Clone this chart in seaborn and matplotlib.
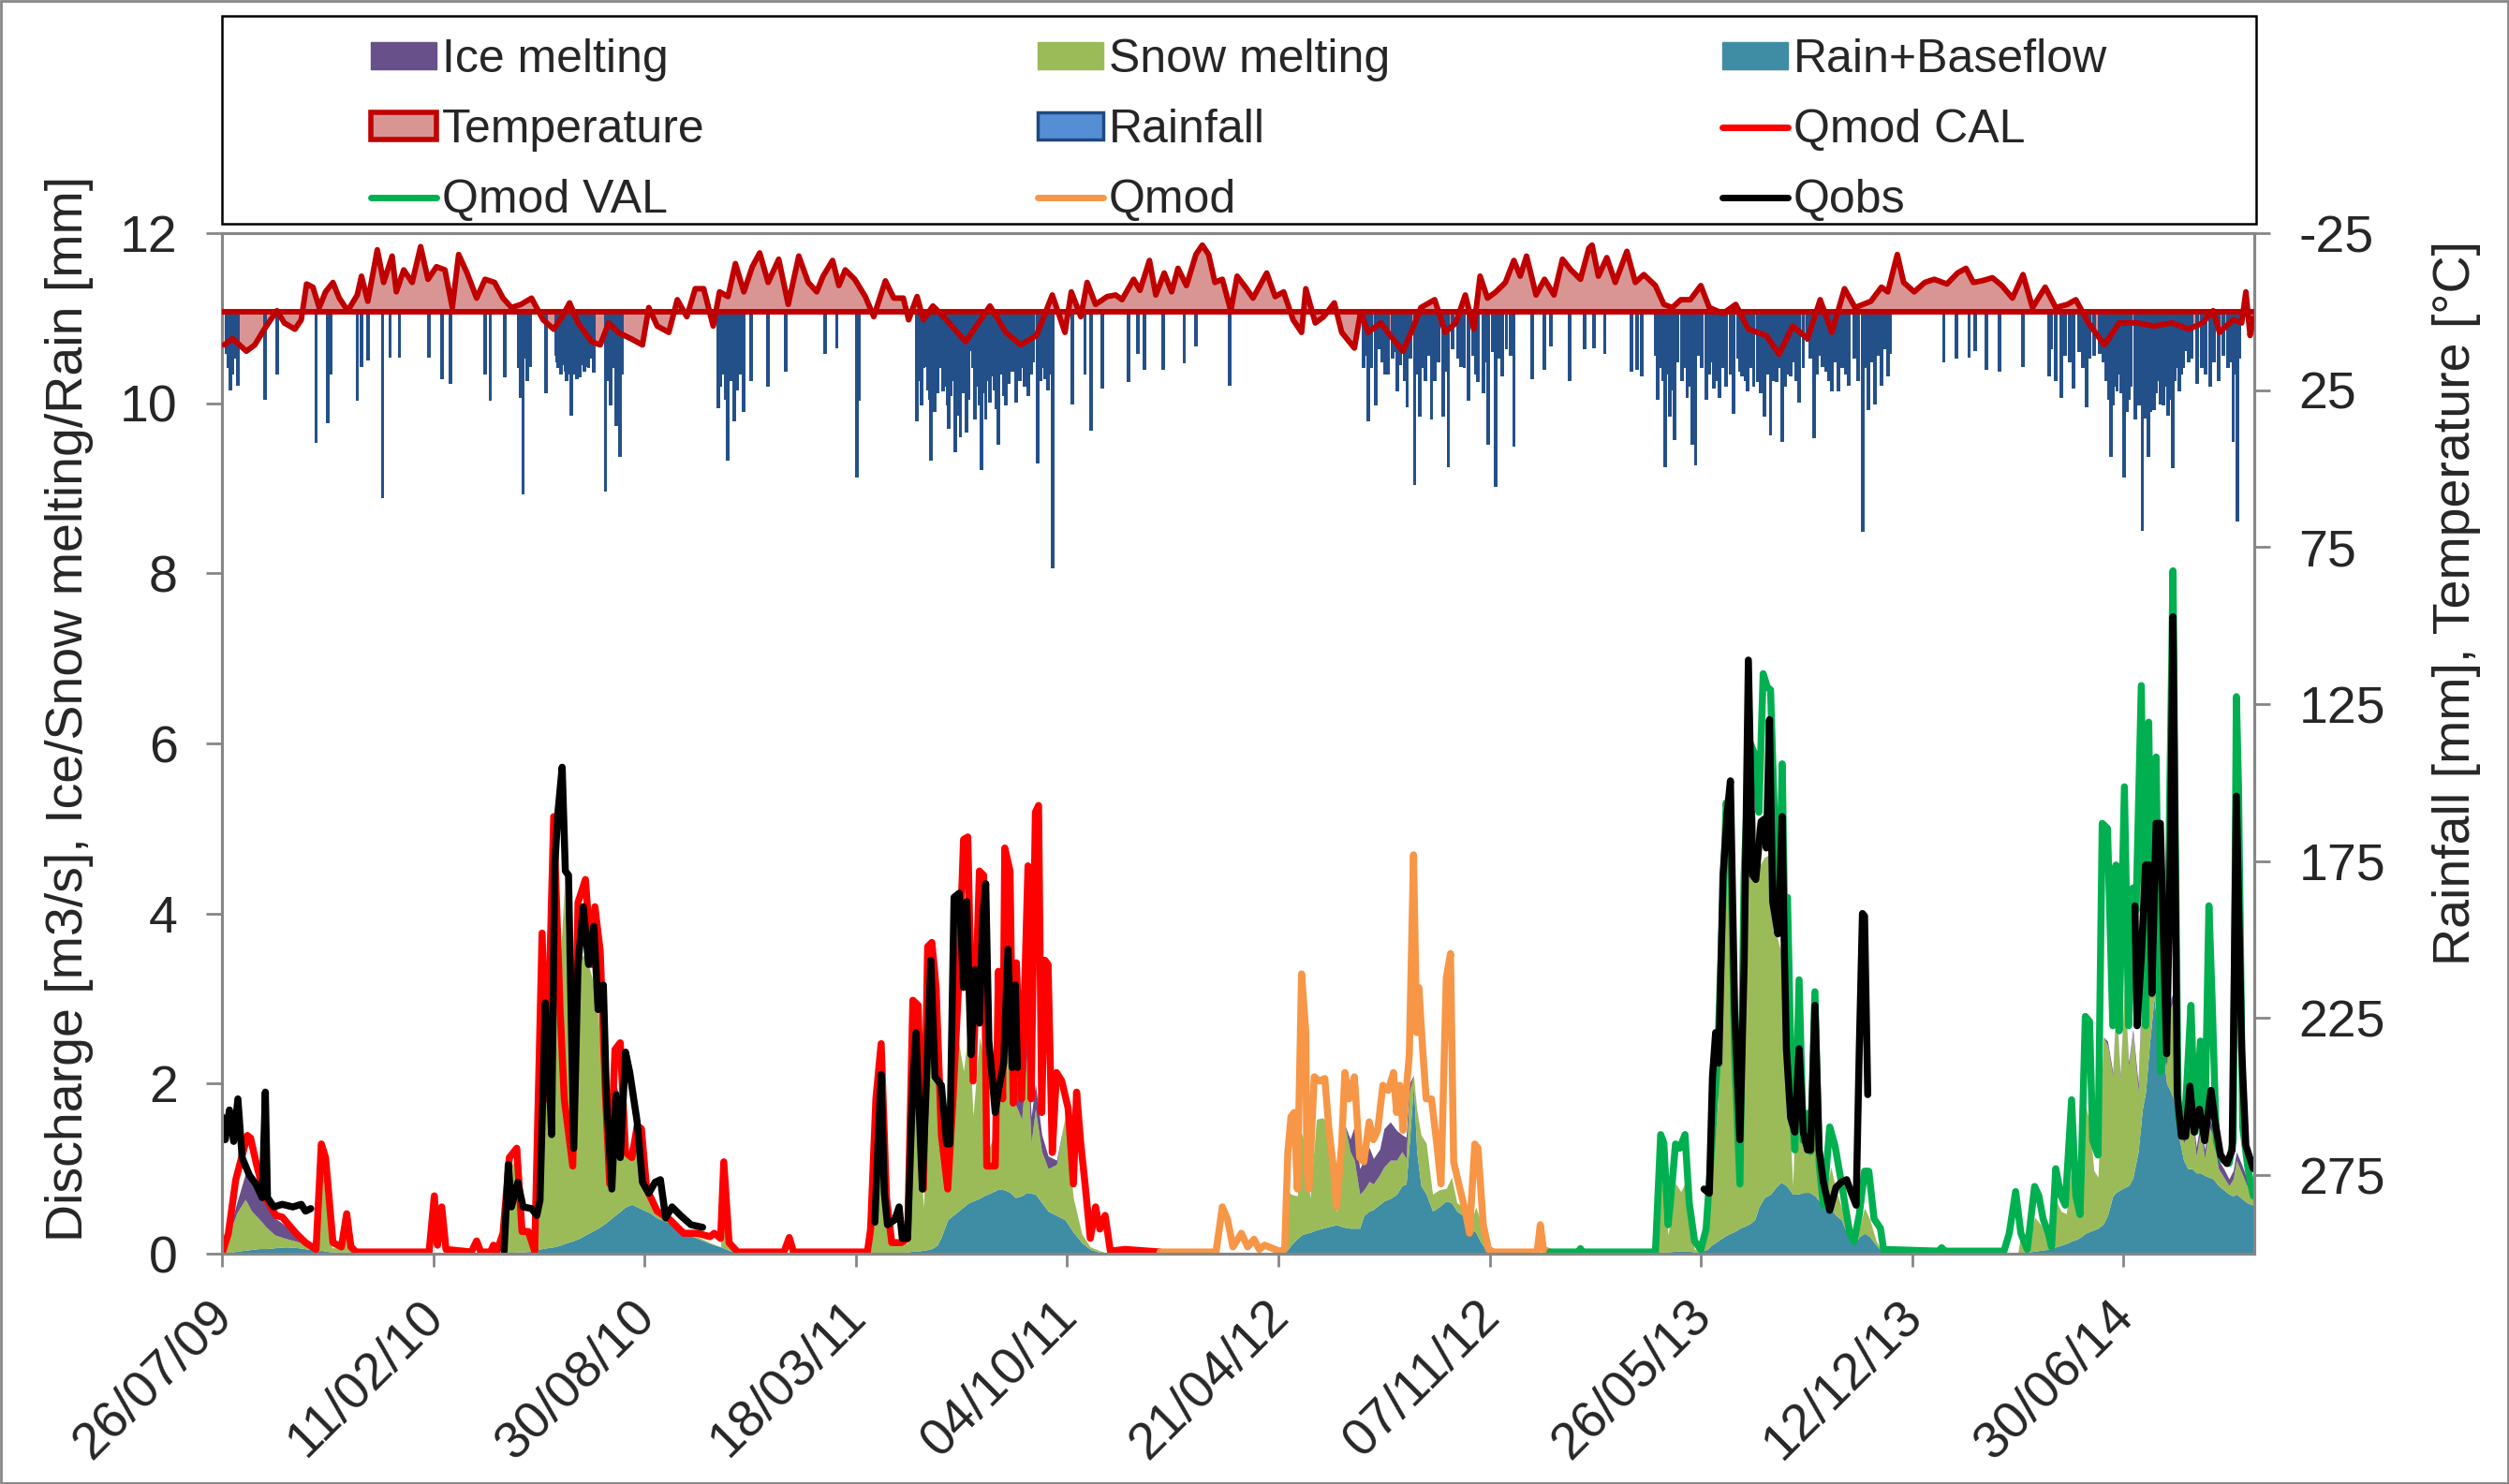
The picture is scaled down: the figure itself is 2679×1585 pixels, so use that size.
import numpy as np
import pandas as pd
import matplotlib
matplotlib.use("Agg")
import matplotlib.pyplot as plt
import matplotlib.dates as mdates
from matplotlib.patches import Patch, Rectangle
from matplotlib.lines import Line2D
from matplotlib.transforms import ScaledTranslation
import seaborn as sns

# ---------------- data (day offsets from 26/07/2009) ----------------
START = "2009-07-26"

# Qmod calibration (red)
qcal_days = [0, 6, 13, 24, 27, 33, 41, 51, 57, 70,
             79, 89, 94, 98, 105, 113, 118, 122, 127, 196,
             201, 204, 208, 212, 236, 241, 245, 254, 257, 260,
             266, 272, 279, 284, 290, 296, 303, 307, 314, 320,
             324, 332, 337, 344, 350, 353, 358, 363, 367, 372,
             377, 382, 388, 393, 397, 402, 412, 424, 437, 450,
             462, 466, 472, 475, 480, 488, 532, 537, 541, 611,
             614, 619, 624, 629, 634, 643, 649, 654, 659, 664,
             668, 672, 676, 681, 687, 692, 697, 702, 706, 711,
             717, 721, 724, 732, 735, 739, 741, 746, 749, 752,
             757, 763, 766, 770, 773, 776, 779, 782, 786, 790,
             795, 801, 806, 809, 813, 817, 822, 827, 831, 836,
             841, 855, 888]
qcal_vals = [0, .24, .87, 1.39, 1.36, 1.03, .66, .45, .43, .24,
             .13, .05, 1.29, 1.13, .13, .08, .47, .08, .02, .02,
             .68, .1, .55, .05, .02, .15, .02, .02, .1, .02,
             .24, 1.13, 1.24, .26, .26, .03, 3.77, 1.82, 5.14, 2.87,
             1.82, 1.03, 4.13, 4.4, 3.4, 4.08, 3.56, 1.87, .82, 2.4,
             2.48, 1.19, 1.13, 1.5, 1.47, .76, .5, .4, .24, .24,
             .2, .24, .18, 1.08, .13, .02, .02, .19, .02, .02,
             .29, 1.82, 2.47, .66, .13, .13, .18, 2.98, 2.92, .76,
             3.61, 3.66, 3.13, 1.4, .76, 1.82, 3.08, 4.87, 4.9, 2.03,
             4.5, 4.45, 1.03, 1.03, 3.32, 1.82, 4.77, 4.5, 1.77, 3.42,
             1.82, 4.56, 1.82, 5.19, 5.27, 1.66, 3.45, 3.4, 1.19, 2.13,
             2.03, 1.71, .82, 1.9, 1.29, .82, .18, .55, .29, .45,
             .03, .05, .02]

# Qmod 2012 (orange)
qmod_days = [888, 941, 947, 952, 957, 965, 971, 977, 982, 987,
             1001, 1006, 1009, 1012, 1015, 1018, 1022, 1026, 1027, 1029,
             1034, 1039, 1044, 1048, 1052, 1055, 1060, 1063, 1067, 1072,
             1077, 1081, 1086, 1090, 1094, 1099, 1104, 1109, 1112, 1115,
             1118, 1124, 1128, 1131, 1133, 1137, 1140, 1145, 1150, 1154,
             1159, 1163, 1166, 1172, 1177, 1181, 1186, 1189, 1194, 1199,
             1204, 1245, 1248, 1251, 1257]
qmod_vals = [.02, .02, .55, .4, .08, .24, .08, .17, .05, .1,
             .03, .05, 1.19, 1.61, 1.66, .76, 3.29, 2.6, .97, .76,
             2.08, 2.03, 2.06, 1.45, 1.03, .55, 1.29, 2.13, 1.82, 2.08,
             1.13, 1.08, 1.55, 1.34, 1.45, 1.98, 1.92, 2.13, 1.66, 1.98,
             1.45, 2.34, 4.69, 2.6, 3.13, 2.34, 1.82, 1.82, 1.29, .82,
             3.24, 3.53, 1.08, .76, .5, .24, 1.29, 1.24, .34, .05,
             .02, .02, .34, .05, .02]

# Qmod validation (green)
qval_days = [1257, 1284, 1286, 1288, 1357, 1362, 1365, 1369, 1372, 1376,
             1380, 1385, 1389, 1394, 1400, 1405, 1409, 1416, 1424, 1428,
             1432, 1437, 1441, 1446, 1451, 1455, 1459, 1463, 1466, 1471,
             1474, 1477, 1479, 1482, 1486, 1489, 1493, 1497, 1501, 1504,
             1508, 1512, 1516, 1522, 1527, 1533, 1541, 1545, 1550, 1555,
             1559, 1564, 1570, 1573, 1625, 1628, 1631, 1687, 1692, 1698,
             1703, 1709, 1716, 1720, 1724, 1729, 1732, 1736, 1741, 1745,
             1751, 1755, 1759, 1764, 1768, 1771, 1776, 1780, 1785, 1790,
             1793, 1796, 1801, 1805, 1809, 1812, 1817, 1821, 1824, 1827,
             1831, 1835, 1840, 1843, 1847, 1849, 1852, 1857, 1860, 1864,
             1868, 1873, 1877, 1881, 1884, 1888, 1893, 1900, 1904, 1907,
             1909, 1913, 1918, 1923]
qval_vals = [.02, .02, .06, .02, .02, 1.4, 1.3, .34, .71, 1.29,
             1.24, 1.4, .6, .15, .05, .29, 1.03, 2.34, 5.3, 4.98,
             2.34, .82, 4.45, 6.03, 5.87, 5.19, 6.82, 6.66, 6.63, 4.57,
             4.0, 5.76, 4.19, 4.19, 1.87, 1.22, 3.22, 1.33, 1.65, 1.2,
             3.08, 1.06, .57, 1.49, 1.27, .84, .24, .14, .46, .97,
             .97, .41, .3, .05, .03, .07, .03, .03, .24, .73,
             .24, .05, .79, .68, .41, .24, .08, 1.0, .68, .57,
             1.81, .68, .46, 2.79, 2.73, 1.33, 1.16, 5.06, 5.0, 2.68,
             4.57, 2.62, 5.49, 2.68, 4.3, 4.03, 6.68, 2.68, 6.25, 3.49,
             5.84, 2.14, 2.41, 4.57, 8.03, 5.11, 1.6, 1.38, 1.97, 2.92,
             1.43, 2.5, 1.33, 4.09, 3.0, 1.33, 1.11, 1.06, 1.33, 6.55,
             5.49, 1.49, 1.0, .68]

# Observed discharge (NaN = gap in record)
qobs_days = [0, 3, 7, 11, 15, 19, 26, 32, 38, 41, 43, 49, 57, 67, 75, 79, 84, 85,
             267, 271, 274, 280, 285, 293, 298, 301, 306, 310, 312, 315, 318, 322,
             325, 328, 333, 337, 342, 347, 352, 356, 361, 364, 369, 373, 377, 382,
             386, 393, 398, 404, 410, 415, 420, 426, 434, 444, 455, 456,
             618, 621, 624, 627, 630, 637, 641, 644, 649, 654, 657, 663, 667, 671,
             675, 681, 686, 689, 693, 698, 702, 705, 709, 713, 717, 720, 723, 726,
             732, 735, 740, 744, 748, 751, 753, 754,
             1403, 1408, 1411, 1414, 1417, 1421, 1425, 1428, 1432, 1437, 1441, 1445,
             1449, 1452, 1457, 1460, 1462, 1465, 1468, 1473, 1477, 1479, 1481, 1485,
             1489, 1493, 1497, 1501, 1504, 1508, 1512, 1516, 1522, 1528, 1533, 1538,
             1542, 1547, 1550, 1553, 1555, 1558, 1559,
             1811, 1813, 1817, 1821, 1825, 1827, 1831, 1835, 1841, 1845, 1847, 1851,
             1855, 1859, 1863, 1867, 1872, 1877, 1883, 1887, 1892, 1898, 1903, 1907,
             1912, 1916, 1923]
qobs_vals = [1.61, 1.34, 1.69, 1.32, 1.82, 1.13, .92, .82, .66, 1.9, .66, .55, .58, .55, .58, .5, .53, np.nan,
             .03, 1.05, .55, .84, .55, .53, .45, .63, 2.95, 1.98, 1.4, 4.56, 5.19, 5.72,
             4.5, 4.45, 1.24, 3.4, 4.08, 3.4, 3.85, 2.87, 3.16, 1.82, .76, 1.87, 1.13, 2.37,
             2.13, 1.55, .84, .71, .84, .87, .42, .55, .45, .34, .31, np.nan,
             .37, 1.29, 2.11, .71, .34, .4, .55, .18, .18, 2.03, 2.6, .76, 2.08, 3.45,
             2.08, 1.98, 1.29, 1.29, 4.19, 4.24, 3.13, 4.14, 2.34, 3.34, 2.71, 3.92, 4.35, 2.5,
             1.66, 1.92, 2.24, 3.58, 2.19, 3.16, 2.19, np.nan,
             .76, .71, 2.08, 2.6, 2.24, 4.45, 5.19, 5.56, 2.87, 1.34, 3.4, 6.98,
             4.45, 4.4, 5.08, 5.11, 4.77, 6.28, 4.14, 3.76, 5.14, 3.6, 2.41, 1.6,
             1.43, 2.41, 1.43, 1.22, 1.22, 2.92, 1.22, .84, .51, .78, .84, .87,
             .73, .57, 2.41, 4.0, 3.97, 1.87, np.nan,
             4.09, 2.68, 3.49, 4.57, 4.57, 3.06, 5.06, 5.06, 2.35, 5.11, 7.49, 1.87,
             1.38, 1.38, 1.97, 1.43, 1.7, 1.33, 1.92, 1.54, 1.16, 1.06, 1.22, 5.38,
             2.41, 1.27, 1.0]

# Discharge components (stacked areas)
stack_days = [0, 6, 14, 22, 28, 35, 42, 50, 60, 72, 84, 90, 94, 98, 104, 112, 118, 124, 268,
              272, 279, 284, 295, 300, 303, 308, 314, 320, 324, 332, 338, 344, 350, 356, 362, 367,
              372, 377, 382, 388, 393, 398, 405, 412, 425, 437, 450, 462, 472, 476, 480, 488, 614,
              619, 624, 629, 634, 649, 654, 659, 664, 669, 672, 677, 681, 687, 692, 697, 702, 707,
              711, 717, 721, 725, 732, 735, 741, 746, 751, 757, 762, 766, 770, 776, 782, 790, 798,
              806, 814, 822, 830, 840, 1004,
              1009, 1012, 1018, 1022, 1026, 1030, 1036, 1042, 1048, 1052, 1055, 1060, 1063, 1068,
              1072, 1077, 1081, 1086, 1090, 1096, 1100, 1106, 1112, 1117, 1121, 1124, 1128, 1131,
              1135, 1140, 1146, 1152, 1159, 1164, 1169, 1175, 1181, 1187, 1191, 1196, 1200, 1357,
              1362, 1366, 1369, 1376, 1381, 1385, 1389, 1394, 1400, 1406, 1410, 1416, 1422, 1428,
              1432, 1437, 1441, 1446, 1451, 1455, 1460, 1466, 1471, 1476, 1481, 1487, 1492, 1497,
              1503, 1508, 1512, 1517, 1523, 1528, 1533, 1541, 1546, 1550, 1555, 1560, 1566, 1572,
              1575, 1700,
              1702, 1710, 1716, 1722, 1728, 1732, 1736, 1741, 1746, 1751, 1756, 1760, 1764, 1768,
              1772, 1776, 1781, 1785, 1790, 1793, 1797, 1801, 1805, 1809, 1814, 1818, 1821, 1825,
              1829, 1833, 1837, 1841, 1845, 1848, 1852, 1857, 1861, 1865, 1869, 1873, 1877, 1881,
              1885, 1890, 1895, 1900, 1904, 1907, 1912, 1917, 1923]
rain_baseflow = [0, .01, .03, .04, .05, .06, .06, .07, .08, .07, .05, .03, .04, .03, .02, .02, .02, 0, 0,
                 .01, .02, .02, .03, .05, .06, .07, .08, .1, .12, .15, .18, .22, .26, .3, .35, .4,
                 .45, .5, .55, .58, .55, .52, .48, .42, .35, .25, .18, .12, .08, .06, .04, 0, 0,
                 .01, .01, .01, .01, .02, .03, .03, .04, .05, .06, .1, .2, .4, .45, .5, .55, .6,
                 .62, .65, .68, .7, .74, .76, .75, .72, .66, .68, .72, .71, .7, .6, .5, .45, .4,
                 .25, .13, .05, .02, 0, 0,
                 .05, .1, .18, .22, .24, .25, .28, .3, .32, .33, .34, .32, .31, .3,
                 .3, .3, .45, .5, .52, .58, .62, .65, .7, .8, .82, 1.3, 2.0, 1.2,
                 .8, .7, .5, .55, .62, .6, .5, .45, .3, .25, .15, .05, 0, 0,
                 .02, .02, .02, .03, .03, .03, .03, .02, .03, .05, .1, .15, .2, .24,
                 .26, .3, .32, .35, .4, .55, .66, .7, .78, .84, .8, .7, .7, .72,
                 .72, .68, .62, .57, .52, .45, .4, .15, .12, .2, .24, .2, .1, .02,
                 0, 0,
                 .01, .02, .03, .04, .05, .06, .08, .1, .12, .15, .17, .2, .24, .26,
                 .28, .3, .35, .45, .68, .72, .75, .78, .8, .89, 1.2, 1.7, 1.9, 2.5,
                 3.0, 2.6, 2.4, 2.0, 1.9, 1.8, 1.4, 1.1, 1.0, 1.0, .95, .95, .92, .9,
                 .88, .8, .75, .7, .68, .7, .65, .6, .57]
snow_melting = [0, .2, .45, .6, .45, .35, .25, .15, .1, .07, .04, .02, 1.1, .6, .05, .05, .35, 0, 0,
                1.0, 1.1, .3, .25, 2.0, 3.5, 1.5, 4.9, 3.3, 4.2, .85, 3.3, 3.3, 3.0, 2.5, 1.4, .4,
                1.5, 1.3, .6, .7, .8, .55, .3, .1, .08, .03, .02, .01, 0, .9, .1, 0, 0,
                1.3, 2.0, .4, .15, .1, 2.5, 1.5, .5, 2.0, 2.9, 2.5, 1.0, .35, 1.2, 2.0, 1.6, 2.1,
                1.0, 1.9, 1.6, .5, .7, 1.2, 2.0, 1.3, 1.1, .9, 1.6, .6, 1.0, .6, .5, .6, 1.2,
                .4, .1, .03, .02, 0, 0,
                .7, .6, .5, 1.2, 1.0, .4, 1.3, 1.3, 1.2, .6, .15, .7, 1.2, .9,
                .8, .4, .3, .35, .3, .35, .4, .45, .4, .4, .3, .6, .1, .5,
                .6, .6, .2, .2, .15, .3, .1, .1, .02, .3, .25, .02, 0, 0,
                .9, .6, .2, .8, .7, .8, .3, .03, .05, .2, .8, 1.6, 4.5, 4.4,
                2.0, 1.0, 3.5, 5.0, 4.8, 4.0, 4.0, 4.0, 3.0, 2.7, 1.6, .1, 1.9, .5,
                .7, 1.5, .2, .05, .5, .3, .15, .05, .02, .1, .3, .2, .05, 0,
                0, 0,
                .15, .05, .4, .3, .15, .1, .55, .4, .35, .9, .45, .3, 1.5, 1.3,
                .7, .6, 2.2, 2.0, 1.4, 2.2, 1.3, 2.3, 1.4, 1.7, .7, 1.6, .8, .9,
                .3, .3, .1, .2, 1.0, 1.2, .2, .2, .4, .6, .2, .5, .2, .6,
                .5, .2, .15, .1, .2, .4, .3, .2, .05]
ice_melting = [0, .03, .12, .3, .45, .4, .3, .2, .15, .08, .03, 0, 0, 0, 0, 0, 0, 0, 0,
               0, 0, 0, 0, 0, 0, 0, 0, 0, 0, 0, 0, 0, 0, 0, .05, 0,
               .05, .05, 0, .03, .05, .03, 0, 0, 0, 0, 0, 0, 0, 0, 0, 0, 0,
               0, 0, 0, 0, 0, 0, 0, 0, 0, 0, 0, 0, 0, 0, 0, 0, 0,
               0, 0, 0, 0, 0, 0, .05, .1, .3, .4, .35, .3, .3, .2, .15, .05, 0,
               0, 0, 0, 0, 0, 0,
               0, 0, 0, 0, 0, 0, 0, 0, 0, 0, 0, 0, 0, .15,
               .4, .3, .35, .4, .3, .3, .45, .45, .35, .2, .25, .1, 0, 0,
               0, 0, 0, 0, 0, 0, 0, 0, 0, 0, 0, 0, 0, 0,
               0, 0, 0, 0, 0, 0, 0, 0, 0, 0, 0, 0, 0, 0,
               0, 0, 0, 0, 0, 0, 0, 0, 0, 0, 0, 0, 0, 0,
               0, 0, 0, 0, 0, 0, 0, 0, 0, 0, 0, 0, 0, 0,
               0, 0,
               0, 0, 0, 0, 0, 0, 0, 0, 0, 0, 0, 0, 0, 0,
               0, 0, 0, .05, .05, .05, .05, .05, .05, .05, .1, .1, .1, .1,
               .1, .1, .1, .1, .1, .1, .1, .1, .1, .1, .1, .1, .1, .1,
               .1, .1, .1, .08, .1, .1, .1, .08, .05]

# Temperature (deg C, right axis)
temp_days = [2, 10, 23, 31, 40, 46, 52, 59, 69, 75, 80, 86, 92, 98, 105, 111, 119, 128, 132, 138,
             147, 153, 161, 165, 172, 180, 188, 195, 203, 211, 218, 224, 232, 241, 249, 258, 266, 274, 283, 293,
             304, 314, 322, 329, 337, 350, 358, 366, 375, 387, 398, 404, 412, 423, 431, 440, 448, 456, 465, 471,
             479, 486, 494, 502, 509, 517, 527, 536, 546, 555, 563, 569, 578, 584, 590, 599, 609, 617, 628, 636,
             645, 650, 658, 664, 673, 683, 704, 727, 742, 756, 771, 786, 798, 804, 813, 819, 827, 838, 846, 852,
             863, 869, 878, 884, 892, 899, 905, 913, 922, 928, 934, 940, 947, 955, 961, 970, 976, 989, 997, 1005,
             1014, 1022, 1026, 1035, 1043, 1053, 1060, 1072, 1078, 1085, 1097, 1106, 1118, 1127, 1135, 1148, 1158, 1168, 1177, 1185,
             1191, 1198, 1206, 1215, 1223, 1229, 1235, 1244, 1252, 1261, 1269, 1277, 1286, 1294, 1297, 1303, 1311, 1319, 1330, 1338,
             1346, 1357, 1365, 1373, 1381, 1390, 1400, 1408, 1421, 1433, 1445, 1462, 1474, 1487, 1501, 1513, 1524, 1536, 1546, 1561,
             1571, 1577, 1586, 1592, 1602, 1612, 1621, 1633, 1643, 1651, 1658, 1666, 1676, 1685, 1695, 1705, 1714, 1726, 1736, 1747,
             1755, 1767, 1782, 1796, 1813, 1829, 1846, 1862, 1875, 1885, 1891, 1904, 1912, 1916, 1920, 1923]
temp_vals = [10.6, 8.6, 12.6, 10.6, 5.6, 2.6, -0.3, 3.6, 5.6, 2.6, -8.8, -7.8, -1.3, -6.3, -9.3, -4.3, -0.3, -5.3, -11.3, -3.3,
             -19.7, -9.3, -17.7, -6.3, -13.3, -9.3, -20.7, -10.3, -14.3, -13.3, -1.3, -18.2, -12.3, -4.3, -10.3, -9.3, -4.3, -1.3, -2.3, -4.3,
             2.6, 5.6, 1.6, -2.8, 3.6, 9.6, 10.6, 3.6, 6.6, 8.6, 10.6, -1.3, 4.6, 6.6, -3.8, 1.6, -7.3, -7.3, 4.6, -6.3,
             -4.8, -15.3, -6.3, -14.3, -18.7, -9.3, -16.7, -2.3, -17.7, -9.3, -6.3, -11.3, -16.3, -8.3, -13.3, -10.3, -4.8, 1.6, -9.8, -4.3,
             -4.3, 2.6, -4.8, 2.6, -1.8, 1.6, 9.6, -1.8, 6.6, 10.6, 7.6, -5.3, 6.6, -6.3, 1.6, -9.3, -2.3, -4.8, -5.3, -3.8,
             -10.3, -6.8, -16.3, -5.3, -12.3, -6.3, -13.8, -8.3, -18.2, -21.2, -18.2, -9.3, -10.3, -0.3, -11.3, -7.3, -4.3, -12.3, -4.8, -6.3,
             2.6, 6.6, -7.3, 3.6, 1.6, -2.8, 6.6, 11.6, 0.0, 6.6, 3.6, 7.6, 12.6, 5.6, -1.3, -3.8, 6.6, 3.6, -5.3, 5.6,
             -11.3, -4.3, -6.3, -9.3, -16.3, -11.3, -17.7, -5.3, -10.3, -5.3, -16.7, -13.3, -10.3, -20.2, -21.2, -11.3, -17.2, -9.3, -19.2, -9.3,
             -11.8, -8.3, -2.3, -1.3, -3.8, -3.8, -8.3, -1.3, 0.6, -2.3, 5.6, 7.6, 13.6, 4.6, 8.6, -3.8, 6.6, -7.3, -1.3, -3.3,
             -7.8, -6.3, -18.2, -9.3, -6.3, -9.3, -10.3, -8.8, -12.3, -13.8, -9.3, -9.8, -10.8, -8.3, -4.3, -11.8, -1.3, -7.8, -1.3, -2.3,
             -3.8, 3.6, 10.6, 3.6, 3.6, 4.6, 3.6, 5.6, 3.6, -0.3, 6.6, 2.6, 3.6, -6.3, 7.6, 2.0]

# Rainfall (mm, right axis): larger events
rain_days = [4, 8, 15, 41, 52, 89, 100, 103, 128, 132, 138, 152, 159, 168, 196, 208, 216, 249, 254, 268,
             281, 283, 285, 287, 289, 292, 307, 316, 320, 324, 329, 331, 336, 341, 345, 350, 352, 363, 373, 377,
             470, 475, 479, 483, 488, 490, 494, 501, 517, 534, 571, 582, 601, 603, 658, 666, 671, 679, 683, 688,
             694, 699, 705, 710, 713, 719, 723, 729, 735, 742, 752, 763, 772, 779, 786, 805, 817, 823, 833, 858,
             867, 873, 891, 911, 922, 954, 1081, 1085, 1092, 1101, 1108, 1113, 1118, 1122, 1129, 1134, 1139, 1145, 1156, 1161,
             1173, 1180, 1189, 1194, 1199, 1206, 1212, 1223, 1240, 1252, 1258, 1276, 1290, 1299, 1309, 1334, 1340, 1344, 1359, 1366,
             1371, 1375, 1387, 1392, 1395, 1405, 1412, 1418, 1431, 1439, 1444, 1454, 1460, 1466, 1472, 1477, 1485, 1493, 1501, 1507,
             1515, 1524, 1530, 1540, 1553, 1559, 1565, 1571, 1577, 1579, 1630, 1642, 1654, 1660, 1670, 1683, 1705, 1730, 1736, 1741,
             1753, 1765, 1778, 1788, 1794, 1796, 1801, 1811, 1813, 1818, 1824, 1829, 1833, 1835, 1842, 1847, 1850, 1853, 1860, 1870,
             1882, 1904, 1908]
rain_mm = [13.6, 25, 23.5, 28, 20, 41.9, 35.4, 20, 28.5, 17.5, 15.5, 59.3, 14.6, 14.6, 14.6, 21.5, 23, 20, 28.5, 21,
           18, 27.5, 58.3, 15, 22, 17.5, 26, 14, 14.6, 15, 20, 33, 21.5, 16, 17.5, 14, 19.5, 57.3, 36.4, 46.4,
           30.9, 18, 47.4, 21.5, 25, 20, 31.9, 22, 24, 19, 13.6, 11.6, 52.8, 28.5, 35, 17.5, 47.4, 16.5, 25.5, 37.4,
           44.9, 39.9, 38.4, 12.6, 34.4, 50.4, 34.4, 20.5, 42.4, 30, 29, 27, 48.4, 21.5, 81.7, 29.5, 20, 37.9, 24.5, 22.5,
           13.6, 18.5, 18.5, 16.5, 11, 23.5, 18, 35, 30, 20, 15, 25.5, 13, 30.5, 55.3, 33.4, 22, 34.4, 33.4, 49.4,
           17.5, 28.5, 22.5, 26, 42.4, 55.8, 20.5, 42.9, 21.5, 18.5, 11, 22, 12.1, 11.6, 13.6, 19, 18.5, 20.5, 28, 49.4,
           33.4, 40.9, 27.5, 42.4, 48.9, 28, 24.5, 27.5, 32.5, 20.5, 25.5, 22.5, 33.4, 39.4, 22.5, 41.4, 20.5, 29, 9.6, 40.4,
           17.5, 25.5, 25.5, 23.5, 70.2, 31.5, 29.5, 23.5, 20.5, 13.6, 16, 15, 14.6, 12.6, 18.5, 19, 17.5, 20.5, 22, 27.5,
           24.5, 30.5, 13.6, 46.4, 25.5, 20, 52.8, 34.4, 28, 69.7, 46.4, 31.5, 22, 29.5, 33, 49.9, 18, 25.5, 12.6, 23,
           24, 41.4, 66.8]

# Rainfall (mm): smaller events filling the wet spells
rain2_days = [6, 10, 12,
              317, 318, 319, 321, 322, 323, 325, 326, 327, 328, 330, 333, 334, 335, 337, 338, 339, 340,
              342, 343, 344, 346, 347, 348,
              365, 368, 370, 375, 379,
              472, 474, 477, 481, 485, 492,
              660, 662, 664, 668, 670, 673, 675, 677, 681, 685, 687, 690, 692, 696, 701, 703, 707, 711, 715, 717,
              721, 725, 727, 731, 733, 738, 740, 745, 748, 755, 758, 760, 766, 768, 775, 777, 782, 784,
              1083, 1088, 1095, 1098, 1104, 1110, 1115, 1120, 1125, 1131, 1137, 1142, 1148, 1152, 1158, 1165, 1170,
              1176, 1184, 1187, 1196, 1203, 1209, 1216, 1220,
              1357, 1362, 1364, 1369, 1373, 1378, 1382, 1385, 1390, 1398, 1401, 1408, 1410, 1415, 1421, 1424, 1428,
              1435, 1437, 1442, 1447, 1450, 1457, 1463, 1469, 1475, 1480, 1482, 1488, 1490, 1497, 1504, 1510, 1512,
              1519, 1521, 1527, 1534, 1537, 1545, 1549, 1556, 1562, 1568, 1574,
              1732, 1745, 1749, 1758, 1762, 1768, 1772, 1781, 1784, 1786, 1790, 1792, 1798, 1803, 1805, 1807, 1815,
              1816, 1820, 1822, 1826, 1831, 1838, 1840, 1844, 1849, 1855, 1857, 1862, 1865, 1874, 1878, 1886, 1890,
              1895, 1899, 1902, 1906, 1910]
rain2_mm = [18, 20, 15,
            16, 18, 15, 20, 17, 14, 19, 22, 16, 18, 15, 17, 20, 14, 18, 16, 21, 15,
            17, 19, 14, 16, 18, 15,
            22, 30, 18, 25, 20,
            24, 20, 28, 22, 35, 18,
            22, 30, 18, 25, 28, 20, 32, 26, 18, 24, 30, 27, 22, 33, 26, 20, 28, 18, 24, 30,
            26, 22, 29, 25, 31, 20, 27, 23, 19, 22, 18, 24, 20, 16, 22, 18, 25, 20,
            14, 18, 12, 16, 20, 13, 17, 22, 15, 20, 18, 14, 22, 16, 19, 12, 15,
            18, 14, 20, 16, 13, 15, 12, 14,
            14, 18, 22, 20, 25, 16, 22, 18, 24, 14, 18, 20, 16, 22, 18, 24, 20,
            15, 19, 22, 18, 24, 26, 20, 22, 18, 24, 20, 16, 22, 18, 15, 20, 14,
            19, 22, 16, 18, 20, 15, 22, 18, 16, 14, 12,
            12, 14, 16, 13, 18, 15, 14, 16, 22, 28, 30, 24, 26, 32, 28, 24, 30,
            26, 34, 28, 32, 26, 30, 24, 28, 22, 20, 18, 16, 15, 18, 20, 16, 22,
            14, 18, 16, 20, 15]

x_tick_days = [0, 200, 400, 600, 800, 1000, 1200, 1400, 1600, 1800]
left_ticks = [0, 2, 4, 6, 8, 10, 12]
right_ticks = [-25, 25, 75, 125, 175, 225, 275]

assert len(qcal_days) == len(qcal_vals) and len(qmod_days) == len(qmod_vals)
assert len(qval_days) == len(qval_vals) and len(qobs_days) == len(qobs_vals)
assert len(stack_days) == len(rain_baseflow) == len(snow_melting) == len(ice_melting)
assert len(temp_days) == len(temp_vals) and len(rain_days) == len(rain_mm)
assert len(rain2_days) == len(rain2_mm)

# ---------------- styling ----------------
sns.set_theme(style="white")
plt.rcParams["font.family"] = ["Liberation Sans", "DejaVu Sans"]
plt.rcParams["axes.unicode_minus"] = False
FS_TICK = 40
FS_LAB = 40
FS_LEG = 36
GRAY = "#868686"
C_ICE, C_SNOW, C_RB = "#68508A", "#9BBB59", "#3F8CA5"
C_TLINE, C_TFILL = "#C00000", "#D99594"
C_RAIN = "#24508A"
C_CAL, C_VAL, C_QMOD, C_OBS = "#FF0000", "#00B050", "#F79646", "#000000"


def to_dates(days):
    return pd.Timestamp(START) + pd.to_timedelta(np.asarray(days, dtype=float), unit="D")


fig = plt.figure(figsize=(26.79, 15.85), dpi=100)
ax = fig.add_axes([0.0885, 0.1552, 0.8100, 0.6877])
ax2 = ax.twinx()

# stacked components
ax.stackplot(to_dates(stack_days), rain_baseflow, snow_melting, ice_melting,
             colors=[C_RB, C_SNOW, C_ICE], linewidth=0, zorder=1)

LW = 5.4
sns.lineplot(x=to_dates(qcal_days), y=qcal_vals, ax=ax, color=C_CAL, linewidth=LW, zorder=3)
sns.lineplot(x=to_dates(qmod_days), y=qmod_vals, ax=ax, color=C_QMOD, linewidth=LW, zorder=3)
sns.lineplot(x=to_dates(qval_days), y=qval_vals, ax=ax, color=C_VAL, linewidth=LW, zorder=3)

# observed discharge, one segment per continuous record
od = np.asarray(qobs_days, float)
ov = np.asarray(qobs_vals, float)
breaks = np.where(np.isnan(ov))[0]
start = 0
for b in list(breaks) + [len(ov)]:
    if b - start > 1:
        sns.lineplot(x=to_dates(od[start:b]), y=ov[start:b], ax=ax, color=C_OBS,
                     linewidth=LW, zorder=4)
    start = b + 1

# right axis: temperature and rainfall
tdates = to_dates(temp_days)
ax2.fill_between(tdates, temp_vals, 0, color=C_TFILL, linewidth=0, zorder=1)
ax2.bar(to_dates(rain_days), rain_mm, width=3.4, color=C_RAIN, linewidth=0, zorder=2)
ax2.bar(to_dates(rain2_days), rain2_mm, width=3.4, color=C_RAIN, linewidth=0, zorder=2)
sns.lineplot(x=tdates, y=temp_vals, ax=ax2, color=C_TLINE, linewidth=4.3, zorder=3)
ax2.axhline(0, color=C_TLINE, linewidth=4.3, zorder=3)

# axes limits and ticks
x0 = pd.Timestamp(START)
ax.set_xlim(x0, x0 + pd.Timedelta(days=1924))
ax.set_ylim(0, 12)
ax2.set_ylim(300, -25)
ax.set_yticks(left_ticks)
ax2.set_yticks(right_ticks)
ax.set_xticks(to_dates(x_tick_days))
ax.xaxis.set_major_formatter(mdates.DateFormatter("%d/%m/%y"))

ax.tick_params(axis="y", left=True, direction="out", length=12, width=2, color=GRAY,
               labelsize=FS_TICK, pad=22)
ax.tick_params(axis="x", bottom=True, direction="out", length=10, width=2, color=GRAY,
               labelsize=FS_TICK, pad=12, labelrotation=45)
ax2.tick_params(axis="y", right=True, direction="out", length=12, width=2, color=GRAY,
                labelsize=FS_TICK, pad=22)
offset = ScaledTranslation(-0.15, -0.10, fig.dpi_scale_trans)
for lbl in ax.get_xticklabels():
    lbl.set_horizontalalignment("right")
    lbl.set_verticalalignment("top")
    lbl.set_rotation_mode("anchor")
    lbl.set_transform(lbl.get_transform() + offset)
for sp in list(ax.spines.values()) + list(ax2.spines.values()):
    sp.set_color(GRAY)
    sp.set_linewidth(2.2)

ax.set_xlabel("")
ax.set_ylabel("Discharge [m3/s], Ice/Snow melting/Rain [mm]", fontsize=FS_LAB)
ax.yaxis.set_label_coords(-0.0631, 0.534)
ax2.set_ylabel("Rainfall [mm], Temperature [°C]", fontsize=FS_LAB, rotation=90)
ax2.yaxis.set_label_coords(1.0876, 0.6376)
ax.grid(False)
ax2.grid(False)

# legend (row-wise order in a 3-column layout)
h_ice = Patch(facecolor=C_ICE, edgecolor=C_ICE)
h_snow = Patch(facecolor=C_SNOW, edgecolor=C_SNOW)
h_rb = Patch(facecolor=C_RB, edgecolor=C_RB)
h_temp = Patch(facecolor=C_TFILL, edgecolor=C_TLINE, linewidth=4)
h_rain = Patch(facecolor="#558ED5", edgecolor="#1F497D", linewidth=2.5)
h_cal = Line2D([], [], color=C_CAL, linewidth=5)
h_val = Line2D([], [], color=C_VAL, linewidth=5)
h_qmod = Line2D([], [], color=C_QMOD, linewidth=5)
h_obs = Line2D([], [], color=C_OBS, linewidth=5)
handles = [h_ice, h_temp, h_val, h_snow, h_rain, h_qmod, h_rb, h_cal, h_obs]
labels = ["Ice melting", "Temperature", "Qmod VAL", "Snow melting", "Rainfall", "Qmod",
          "Rain+Baseflow", "Qmod CAL", "Qobs"]
fig.legend(handles, labels, loc="upper left", bbox_to_anchor=(0.1478, 0.974), ncol=3,
           frameon=False, fontsize=FS_LEG, handlelength=1.4, handleheight=0.5,
           handletextpad=0.12, columnspacing=7.1, labelspacing=0.58, borderpad=0,
           borderaxespad=0)
fig.add_artist(Rectangle((0.0885, 0.8492), 0.8108, 0.1401, transform=fig.transFigure,
                         fill=False, edgecolor="black", linewidth=1.8))
fig.add_artist(Rectangle((0.0005, 0.0005), 0.999, 0.999, transform=fig.transFigure,
                         fill=False, edgecolor=GRAY, linewidth=2))

fig.savefig("out.png", dpi=100, facecolor="white")
